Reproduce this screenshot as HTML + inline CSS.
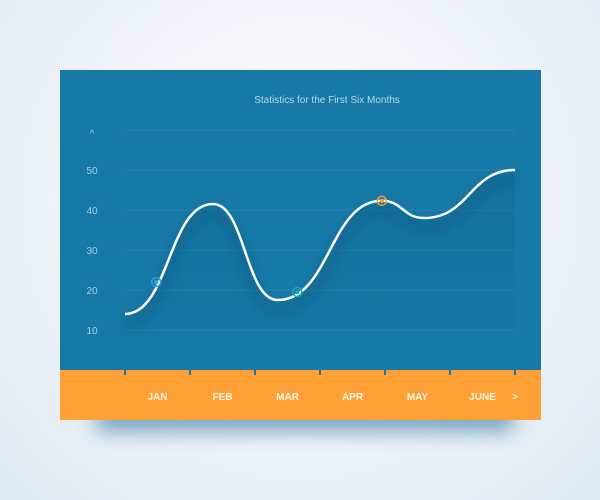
<!DOCTYPE html>
<html><head><meta charset="utf-8"><style>
html,body{margin:0;padding:0}
body{width:600px;height:500px;overflow:hidden;background:radial-gradient(ellipse at 50% 40%,#ffffff 0%,#f2f6fa 45%,#dfe8f0 100%);font-family:"Liberation Sans",sans-serif}
svg{position:absolute;left:0;top:0}
</style></head><body>
<svg width="600" height="500">
<defs>
<filter id="blur" x="-20%" y="-80%" width="140%" height="260%"><feGaussianBlur stdDeviation="10"/></filter>
<filter id="lblur" x="-10%" y="-30%" width="120%" height="160%"><feGaussianBlur stdDeviation="6"/></filter>
<linearGradient id="area" x1="0" y1="0" x2="0" y2="1"><stop offset="0" stop-color="#0d5f88" stop-opacity="0.3"/><stop offset="1" stop-color="#0d5f88" stop-opacity="0"/></linearGradient>
</defs>
<rect x="95" y="405" width="420" height="26" rx="12" fill="#1a6aa0" opacity="0.6" filter="url(#blur)"/>
<rect x="60" y="70" width="481" height="300" fill="#1679a7"/>
<rect x="60" y="370" width="481" height="50" fill="#fda136"/>
<text x="327" y="103" fill="#b9d6e6" font-size="10" text-anchor="middle">Statistics for the First Six Months</text>
<text x="92" y="137" fill="#a9cde0" font-size="10" text-anchor="middle">^</text>
<g id="grid"></g><g id="plot"></g><g id="xaxis"></g>
</svg>
<script>
const yTicks=[10,20,30,40,50];
const months=["JAN","FEB","MAR","APR","MAY","JUNE"];
const curveX=[0,1.35,2.35,3.95,4.6,6];
const curveY=[14,41.5,17.5,42.3,38,50];
const markerX=[0.48,2.65,3.95];
const markerY=[22,19.5,42.3];
const markerColors=["#2aa3dc","#16a9a4","#f0a030"];
const NS="http://www.w3.org/2000/svg";
const sx=v=>125+v*65, sy=v=>370-v*4;
function mk(t,a,p){const e=document.createElementNS(NS,t);for(const k in a)e.setAttribute(k,a[k]);p.appendChild(e);return e;}
const grid=document.getElementById('grid'),plot=document.getElementById('plot'),xa=document.getElementById('xaxis');
let gl=mk('line',{x1:124,x2:516,y1:130,y2:130,stroke:'#2584b0','stroke-width':1},grid);


yTicks.forEach(v=>{
 const l=mk('line',{x1:124,x2:516,y1:sy(v),y2:sy(v),stroke:'#2584b0','stroke-width':1},grid);
 
 
 const t=mk('text',{x:92,y:sy(v)+4,fill:'#a9cde0','font-size':10,'text-anchor':'middle'},grid);
 t.textContent=v;
 
 
});
let d='M'+sx(curveX[0])+','+sy(curveY[0]);
for(let i=1;i<curveX.length;i++){
 const x0=sx(curveX[i-1]),y0=sy(curveY[i-1]),x1=sx(curveX[i]),y1=sy(curveY[i]),dx=(x1-x0)/2;
 d+=' C'+(x0+dx)+','+y0+' '+(x1-dx)+','+y1+' '+x1+','+y1;
}
const area=mk('path',{d:d+' L'+sx(curveX[curveX.length-1])+',370 L'+sx(curveX[0])+',370 Z',fill:'url(#area)'},plot);


const sh=mk('path',{d:d,fill:'none',stroke:'#0b4f74','stroke-width':8,opacity:0.45,filter:'url(#lblur)',transform:'translate(0,10)'},plot);


const line=mk('path',{d:d,fill:'none',stroke:'#ffffff','stroke-width':2.5},plot);


markerX.forEach((v,i)=>{
 const g=mk('g',{},plot);
 
 
 mk('circle',{cx:sx(v),cy:sy(markerY[i]),r:4.5,fill:'none',stroke:markerColors[i],'stroke-width':1.5},g);
 mk('circle',{cx:sx(v),cy:sy(markerY[i]),r:2.2,fill:markerColors[i]},g);
});
for(let i=0;i<=6;i++){
 const t=mk('line',{x1:sx(i),x2:sx(i),y1:370,y2:375,stroke:'#1679a7','stroke-width':2},xa);
 
 
}
months.forEach((m,i)=>{
 const t=mk('text',{x:sx(i+0.5),y:400,fill:'#fff5e6','font-size':10,'font-weight':'bold','text-anchor':'middle'},xa);
 t.textContent=m;
 
 
});
const nx=mk('text',{x:515,y:400,fill:'#fff5e6','font-size':10,'font-weight':'bold','text-anchor':'middle'},xa);
nx.textContent='>';


</script>
</body></html>
